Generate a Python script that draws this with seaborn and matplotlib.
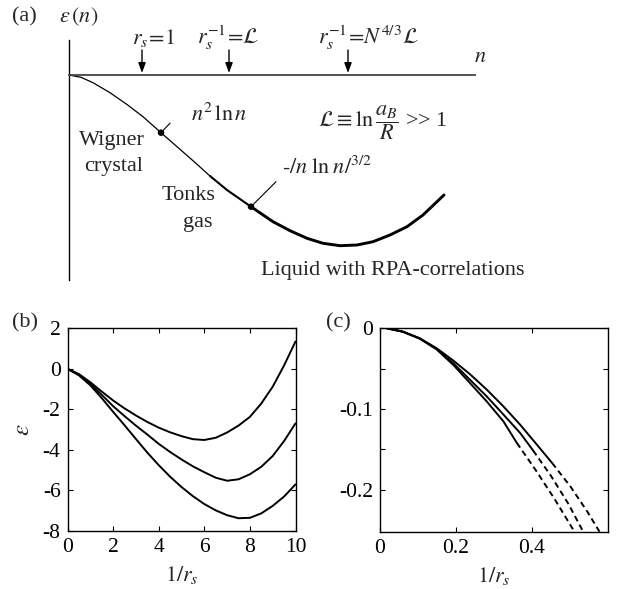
import numpy as np
import pandas as pd
import matplotlib
matplotlib.use('Agg')
import matplotlib.pyplot as plt
import seaborn as sns

# ---------------- data ----------------
# panel (a): schematic energy curve (arbitrary units)
a_n = [0, 12, 24, 41, 58, 74, 92, 108, 124, 141, 158, 182, 204, 221, 238, 254, 271, 288, 304,
       321, 338, 354, 375]
a_eps = [0, -2.3, -7.7, -17.7, -29.5, -41.7, -57.7, -71.7, -85.7, -101, -115, -131.7, -146.7,
         -155.7, -163.3, -168.3, -170.7, -170, -166.7, -160, -151.7, -140, -120]
a_dot_n = [92, 182]
a_dot_eps = [-57.7, -131.7]
a_arrow_n = [73, 160, 279]
a_arrow_labels = [r'$r_s\!=\!1$', r'$r_s^{-1}\!=\!\mathcal{L}$', r'$r_s^{-1}\!=\!N^{4/3}\mathcal{L}$']

# panel (b)
b_x = [0, 0.5, 1, 1.5, 2, 2.5, 3, 3.5, 4, 4.5, 5, 5.5, 6, 6.5, 7, 7.5, 8, 8.5, 9, 9.5, 10]
b_y1 = [0, -0.26, -0.66, -1.12, -1.56, -1.95, -2.30, -2.62, -2.90, -3.13, -3.32, -3.47, -3.51,
        -3.40, -3.14, -2.80, -2.37, -1.71, -0.88, 0.17, 1.35]
b_y2 = [0, -0.28, -0.73, -1.28, -1.84, -2.33, -2.80, -3.24, -3.70, -4.10, -4.47, -4.81, -5.10,
        -5.37, -5.52, -5.45, -5.20, -4.83, -4.30, -3.56, -2.69]
b_y3 = [0, -0.32, -0.81, -1.44, -2.12, -2.78, -3.46, -4.13, -4.75, -5.32, -5.83, -6.28, -6.67,
        -6.98, -7.22, -7.37, -7.35, -7.13, -6.76, -6.30, -5.70]
b_xticks = [0, 2, 4, 6, 8, 10]
b_yticks = [2, 0, -2, -4, -6, -8]

# panel (c): solid parts and dashed continuations
c_xA = [0.018, 0.06, 0.105, 0.149, 0.193, 0.237, 0.281, 0.325, 0.369, 0.413, 0.453]
c_yA = [0, -0.004, -0.0124, -0.0247, -0.040, -0.057, -0.076, -0.0969, -0.1196, -0.1443, -0.167]
c_xA_d = [0.453, 0.501, 0.545, 0.578]
c_yA_d = [-0.167, -0.196, -0.2268, -0.2524]
c_xB = [0.018, 0.06, 0.105, 0.149, 0.193, 0.237, 0.281, 0.325, 0.369, 0.403]
c_yB = [0, -0.0042, -0.0127, -0.0255, -0.0433, -0.0639, -0.0845, -0.107, -0.1299, -0.1515]
c_xB_d = [0.403, 0.45, 0.495, 0.535]
c_yB_d = [-0.1515, -0.183, -0.217, -0.2524]
c_xC = [0.018, 0.06, 0.105, 0.149, 0.193, 0.237, 0.281, 0.325, 0.36]
c_yC = [0, -0.0043, -0.013, -0.0262, -0.0454, -0.068, -0.0907, -0.1155, -0.142]
c_xC_d = [0.36, 0.41, 0.46, 0.512]
c_yC_d = [-0.142, -0.176, -0.212, -0.2524]
c_xticks = [0, 0.2, 0.4]
c_xticklabels = ['0', '0.2', '0.4']
c_yticks = [0, -0.1, -0.2]
c_yticklabels = ['0', '-0.1', '-0.2']
c_yminor = [-0.05, -0.15]

# ---------------- style ----------------
sns.set_style('ticks')
plt.rcParams['font.family'] = ['Liberation Serif', 'DejaVu Serif']
plt.rcParams['mathtext.fontset'] = 'stix'
plt.rcParams['axes.unicode_minus'] = False
plt.rcParams['axes.edgecolor'] = 'black'
plt.rcParams['xtick.color'] = 'black'
plt.rcParams['ytick.color'] = 'black'

W, H = 618, 589
fig = plt.figure(figsize=(W / 100, H / 100), dpi=100)


def box(l, t, r, b):
    return [l / W, 1 - b / H, (r - l) / W, (b - t) / H]


def fpos(x, y):
    return (x / W, 1 - y / H)


FS = 16

# ---------------- panel (a) ----------------
axa = fig.add_axes(box(69, 30, 500, 285))
axa.set_xlim(0, 431)
axa.set_ylim(-210, 45)
for s in ['top', 'right']:
    axa.spines[s].set_visible(False)
axa.spines['left'].set_bounds(-205, 35)
axa.spines['left'].set_linewidth(1.0)
axa.spines['bottom'].set_position(('data', 0))
axa.spines['bottom'].set_bounds(0, 406)
axa.spines['bottom'].set_color('#444444')
axa.spines['bottom'].set_linewidth(1.3)
axa.set_xticks([])
axa.set_yticks([])

segs = [(0, 10, 0.9), (9, 12, 1.5), (11, len(a_n), 2.1)]
for i0, i1, lw in segs:
    sns.lineplot(x=a_n[i0:i1], y=a_eps[i0:i1], ax=axa, color='k', lw=lw,
                 sort=False, estimator=None, solid_capstyle='round')
sns.scatterplot(x=a_dot_n, y=a_dot_eps, ax=axa, color='k', s=22, edgecolor='none', zorder=5)
axa.annotate('', xy=(a_dot_n[0], a_dot_eps[0]), xytext=(a_dot_n[0] + 9, a_dot_eps[0] + 9.5),
             arrowprops=dict(arrowstyle='-', lw=0.8, color='k', shrinkA=0, shrinkB=0))
axa.annotate('', xy=(a_dot_n[1], a_dot_eps[1]), xytext=(a_dot_n[1] + 25, a_dot_eps[1] + 25),
             arrowprops=dict(arrowstyle='-', lw=0.8, color='k', shrinkA=0, shrinkB=0))

label_left = [63, 128, 249]
for n, lab, lx in zip(a_arrow_n, a_arrow_labels, label_left):
    axa.annotate('', xy=(n, 2), xytext=(n, 25),
                 arrowprops=dict(arrowstyle='-|>,head_length=0.6,head_width=0.22', lw=1.0,
                                 color='k', shrinkA=0, shrinkB=0))
    axa.text(lx, 37, lab, fontsize=FS, ha='left', va='center')

axa.text(411, 18, r'$n$', fontsize=FS, ha='center', va='center')
axa.text(150, -40, r'$n^2\,\mathrm{ln}\,n$', fontsize=FS, ha='center', va='center')
axa.text(314, -48, r'$\mathcal{L}\equiv\mathrm{ln}\,\dfrac{a_B}{R}$ >> 1', fontsize=FS,
         ha='center', va='center')
axa.text(43, -65, 'Wigner', fontsize=FS, ha='center', va='center')
axa.text(45, -92, 'crystal', fontsize=FS, ha='center', va='center')
axa.text(120, -120, 'Tonks', fontsize=FS, ha='center', va='center')
axa.text(129, -148, 'gas', fontsize=FS, ha='center', va='center')
axa.text(213, -93, r'$\text{-}/n\;\mathrm{ln}\;n/^{3/2}$', fontsize=FS, ha='left', va='center')
axa.text(324, -195, 'Liquid with RPA-correlations', fontsize=FS, ha='center', va='center')

fig.text(*fpos(24, 17), '(a)', fontsize=FS, ha='center', va='center')
fig.text(*fpos(79, 17), r'$\varepsilon\,(n)$', fontsize=FS, ha='center', va='center')

# ---------------- panel (b) ----------------
axb = fig.add_axes(box(67.5, 328.3, 295.5, 531))
for y in [b_y1, b_y2, b_y3]:
    sns.lineplot(x=b_x, y=y, ax=axb, color='k', lw=1.4, sort=False, estimator=None)
axb.set_xlim(0, 10)
axb.set_ylim(-8, 2)
axb.set_xticks(b_xticks)
axb.set_yticks(b_yticks)
axb.set_xticklabels([str(t) for t in b_xticks])
axb.set_yticklabels([str(t) for t in b_yticks])
axb.set_xlabel(r'$1/r_s$', fontsize=FS, labelpad=5)
axb.set_ylabel(r'$\varepsilon$', fontsize=FS + 2, labelpad=6)

# ---------------- panel (c) ----------------
axc = fig.add_axes(box(380, 328.3, 608, 532))
for xs, ys in [(c_xA, c_yA), (c_xB, c_yB), (c_xC, c_yC)]:
    sns.lineplot(x=xs, y=ys, ax=axc, color='k', lw=1.4, sort=False, estimator=None)
for xs, ys in [(c_xA_d, c_yA_d), (c_xB_d, c_yB_d), (c_xC_d, c_yC_d)]:
    sns.lineplot(x=xs, y=ys, ax=axc, color='k', lw=1.4, sort=False, estimator=None,
                 linestyle=(0, (3, 2)))
axc.set_xlim(0, 0.6)
axc.set_ylim(-0.2525, 0)
axc.set_xticks(c_xticks)
axc.set_xticklabels(c_xticklabels)
axc.set_yticks(c_yticks)
axc.set_yticklabels(c_yticklabels)
axc.set_yticks(c_yminor, minor=True)
axc.set_xlabel(r'$1/r_s$', fontsize=FS, labelpad=5)
axc.set_ylabel('')

for ax in [axb, axc]:
    for s in ax.spines.values():
        s.set_linewidth(1.0)
        s.set_color('black')
    ax.tick_params(which='both', direction='in', top=True, right=True, length=3.5,
                   width=0.8, labelsize=15.5, pad=5)

fig.text(*fpos(25, 323), '(b)', fontsize=FS, ha='center', va='center')
fig.text(*fpos(338, 323), '(c)', fontsize=FS, ha='center', va='center')

fig.savefig('out.png', dpi=100)
